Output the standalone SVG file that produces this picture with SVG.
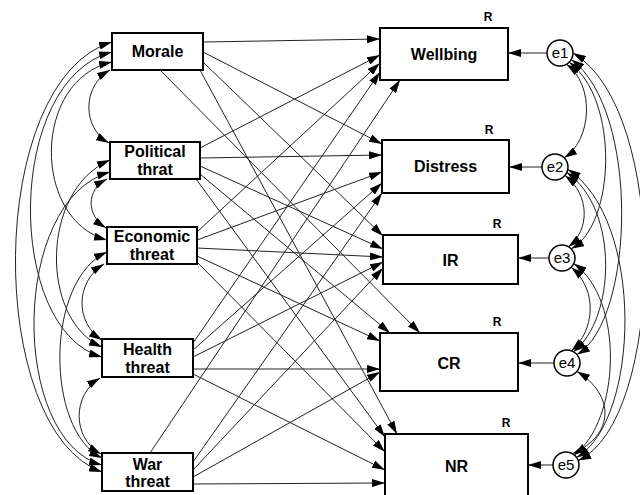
<svg xmlns="http://www.w3.org/2000/svg" width="640" height="495" viewBox="0 0 640 495">
<defs>
<style>
.box{fill:#fff;stroke:#000;stroke-width:2}
.cv{fill:none;stroke:#222;stroke-width:1;marker-start:url(#ah);marker-end:url(#ah)}
.rg{fill:none;stroke:#222;stroke-width:1;marker-end:url(#ah)}
.t{font-family:"Liberation Sans",Arial,sans-serif;font-weight:bold;font-size:16px;text-anchor:middle;fill:#000}
.r{font-family:"Liberation Sans",Arial,sans-serif;font-weight:bold;font-size:12px;text-anchor:middle;fill:#000}
.e{font-family:"Liberation Sans",Arial,sans-serif;font-size:15px;text-anchor:middle;fill:#000}
.circ{fill:#fff;stroke:#000;stroke-width:1.5}
</style>
<marker id="ah" viewBox="0 0 13 8" refX="13" refY="4" markerWidth="13" markerHeight="8" markerUnits="userSpaceOnUse" orient="auto-start-reverse">
<path d="M0,0 L13,4 L0,8 z" fill="#000"/>
</marker>
</defs>
<g id="connectors">
<path class="rg" d="M203,42 L380,39"/>
<path class="rg" d="M203,52 L382,144"/>
<path class="rg" d="M203,62 L383,236"/>
<path class="rg" d="M160,70 L420,333"/>
<path class="rg" d="M200,70 L397,434"/>
<path class="rg" d="M200,148 L380,55"/>
<path class="rg" d="M200,158 L382,155"/>
<path class="rg" d="M200,166 L383,249"/>
<path class="rg" d="M200,174 L390,333"/>
<path class="rg" d="M196,179 L385,437"/>
<path class="rg" d="M197,232 L380,63"/>
<path class="rg" d="M197,240 L382,172"/>
<path class="rg" d="M197,248 L383,257"/>
<path class="rg" d="M197,256 L380,341"/>
<path class="rg" d="M197,262 L385,452"/>
<path class="rg" d="M193,343 L380,72"/>
<path class="rg" d="M193,350 L382,183"/>
<path class="rg" d="M193,357 L383,262"/>
<path class="rg" d="M193,369 L380,369"/>
<path class="rg" d="M193,374 L385,470"/>
<path class="rg" d="M150,453 L400,80"/>
<path class="rg" d="M193,462 L382,193"/>
<path class="rg" d="M193,470 L383,268"/>
<path class="rg" d="M193,477 L380,372"/>
<path class="rg" d="M193,484 L385,483"/>
<path class="rg" d="M547,53 L508,53"/>
<path class="rg" d="M542,167 L509,167"/>
<path class="rg" d="M549,258 L518,258"/>
<path class="rg" d="M554,363 L518,363"/>
<path class="rg" d="M553,465 L528,465"/>
<path class="cv" d="M110,70 C82,86 82,128 109,143"/>
<path class="cv" d="M107,179 C86,190 86,215 106,228"/>
<path class="cv" d="M104,264 C75,282 75,323 102,340"/>
<path class="cv" d="M100,378 C72,395 72,438 101,454"/>
<path class="cv" d="M112,62 C32,80 32,220 107,240"/>
<path class="cv" d="M112,52 C5,80 5,330 102,357"/>
<path class="cv" d="M112,42 C-15,80 -15,430 102,472"/>
<path class="cv" d="M110,160 C40,190 40,320 102,347"/>
<path class="cv" d="M110,172 C10,200 10,440 102,465"/>
<path class="cv" d="M107,252 C45,280 45,430 102,458"/>
<path class="cv" d="M566.5,64.3 C595,85 592,140 564.2,157.8"/>
<path class="cv" d="M569.2,62.2 C620,100 615,225 571.2,248.8"/>
<path class="cv" d="M571.3,59.5 C640,110 635,320 577,354.6"/>
<path class="cv" d="M573,53 C670,110 665,420 578.2,460.6"/>
<path class="cv" d="M565,175.4 C590,195 590,230 568.5,246.7"/>
<path class="cv" d="M566.8,172.5 C620,210 615,320 573.5,351.7"/>
<path class="cv" d="M567.8,169.3 C645,220 640,420 576.6,457.5"/>
<path class="cv" d="M571.2,267.2 C598,290 595,330 571.4,350.8"/>
<path class="cv" d="M573.8,263.5 C625,300 620,420 574.4,455"/>
<path class="cv" d="M577,371.4 C615,395 615,435 572.5,453.7"/>
</g>
<g id="morale"><rect class="box" x="112" y="33" width="91" height="37"/><text class="t" x="157.5" y="57">Morale</text></g>
<g id="political"><rect class="box" x="110" y="142" width="90" height="37"/><text class="t" x="155" y="157">Political</text><text class="t" x="155" y="175">thrat</text></g>
<g id="economic"><rect class="box" x="107" y="227" width="90" height="37"/><text class="t" x="152" y="242">Economic</text><text class="t" x="152" y="260">threat</text></g>
<g id="health"><rect class="box" x="102" y="339" width="91" height="38"/><text class="t" x="147.5" y="355">Health</text><text class="t" x="147.5" y="373">threat</text></g>
<g id="war"><rect class="box" x="102" y="453" width="91" height="38"/><text class="t" x="147.5" y="470">War</text><text class="t" x="147.5" y="487">threat</text></g>
<g id="wellbing"><rect class="box" x="380" y="28" width="128" height="52"/><text class="t" x="444" y="60">Wellbing</text><text class="r" x="488" y="21">R</text></g>
<g id="distress"><rect class="box" x="382" y="140" width="127" height="53"/><text class="t" x="445.5" y="172">Distress</text><text class="r" x="489" y="134">R</text></g>
<g id="ir"><rect class="box" x="383" y="235" width="135" height="49"/><text class="t" x="450.5" y="266">IR</text><text class="r" x="497" y="228">R</text></g>
<g id="cr"><rect class="box" x="380" y="333" width="138" height="58"/><text class="t" x="449" y="369">CR</text><text class="r" x="497" y="326">R</text></g>
<g id="nr"><rect class="box" x="385" y="434" width="143" height="66"/><text class="t" x="456.5" y="472">NR</text><text class="r" x="506" y="427">R</text></g>
<g id="e1"><circle class="circ" cx="560" cy="53" r="13"/><text class="e" x="560" y="58">e1</text></g>
<g id="e2"><circle class="circ" cx="555" cy="167" r="13"/><text class="e" x="555" y="172">e2</text></g>
<g id="e3"><circle class="circ" cx="562" cy="258" r="13"/><text class="e" x="562" y="263">e3</text></g>
<g id="e4"><circle class="circ" cx="567" cy="363" r="13"/><text class="e" x="567" y="368">e4</text></g>
<g id="e5"><circle class="circ" cx="566" cy="465" r="13"/><text class="e" x="566" y="470">e5</text></g>
</svg>
